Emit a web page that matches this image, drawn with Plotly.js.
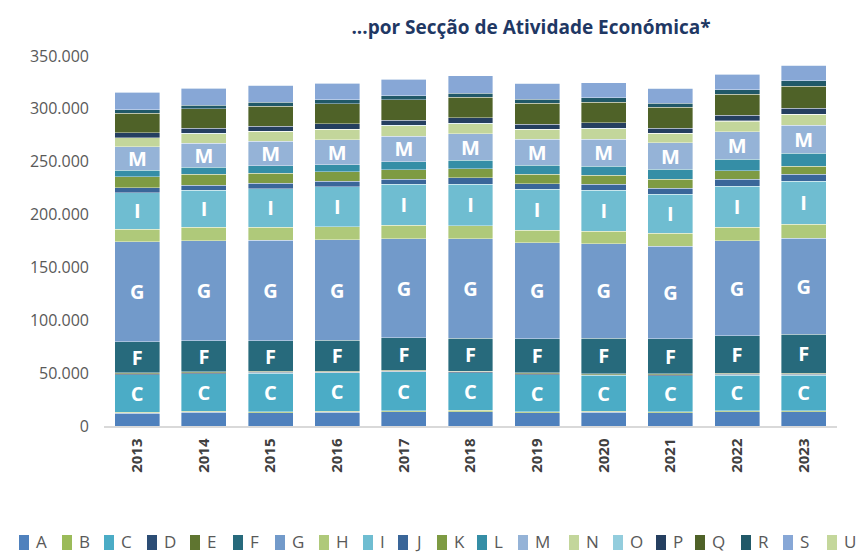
<!DOCTYPE html>
<html>
<head>
<meta charset="utf-8">
<script src="https://cdn.plot.ly/plotly-3.0.1.min.js"></script>
<style>html,body{margin:0;padding:0;background:#fff;}#chart{width:859px;height:552px;}</style>
</head>
<body>
<div id="chart"></div>
<script>
// ---- Data ----
const years = ['2013','2014','2015','2016','2017','2018','2019','2020','2021','2022','2023'];
const seriesNames = ['A','B','C','D','E','F','G','H','I','J','K','L','M','N','O','P','Q','R','S','U'];
const A = [12000,13200,12600,13200,13600,13600,12600,13200,12600,13600,13600];
const B = [800,700,700,900,800,1200,800,900,800,900,900];
const C = [35900,35600,36800,36200,36800,35600,35300,33700,34300,33700,33700];
const D = [700,700,700,700,700,700,700,700,700,700,700];
const E = [900,900,900,900,900,900,900,900,900,900,900];
const F = [29300,29600,29000,29000,30600,31200,32200,33800,33100,35600,37200];
const G = [94600,94600,94900,95200,93700,93700,90800,89200,87700,89900,90500];
const Hs = [12000,12900,12600,12600,12900,12600,12000,12000,12000,12600,13200];
const I = [34400,34700,36300,37800,38500,39400,38500,38500,36900,39100,41000];
const J = [4700,5000,5000,5000,5000,5700,5400,5700,5700,6600,6600];
const K = [10400,10100,9800,8800,9100,8800,8800,8500,8500,7900,7600];
const L = [6300,6600,6900,6900,7600,7900,8500,8800,9500,11000,12000];
const M = [22100,23000,23000,23600,24000,25200,24600,25500,25200,25900,26800];
const N = [8500,8800,9500,9800,9800,9500,9500,9800,8800,10100,10100];
const O = [300,300,300,300,300,300,300,300,300,300,300];
const P = [4700,5000,4700,5000,5000,5400,4700,5400,4700,5000,5700];
const Q = [18300,18600,18900,18900,19200,19200,19600,19200,19600,20200,20500];
const R = [3200,3200,3800,3800,3800,4100,4100,4400,4100,4100,5400];
const S = [16700,16100,15800,15800,15800,16100,14800,14200,13900,14800,14500];
const U = [200,200,200,200,200,200,200,200,200,200,200];
const seriesValues = [A,B,C,D,E,F,G,Hs,I,J,K,L,M,N,O,P,Q,R,S,U];
const labelledSeries = ['C','F','G','I','M'];

// ---- Styles ----
const colors = ['#4F81BD','#9BBB59','#4BACC6','#2C4D75','#5F7530','#276A7C','#729ACA','#AFC97A','#6FBDD1','#3A6699',
                '#7E9B43','#358EA6','#95B3D7','#C3D69B','#93CDDD','#253F60','#4F6228','#215968','#87A7D6','#C4D79B'];
const FONT = 'Open Sans, sans-serif';
const W = 859, H = 552;
const mg = {l:104, r:22, t:56, b:126};
const pw = W - mg.l - mg.r, ph = H - mg.t - mg.b;
const legendLeft = [19,62,104,147,190,233,275,319,363,398,437,477,518,569,613,656,695,741,783,827];

const traces = seriesNames.map((name, i) => {
  const lab = labelledSeries.includes(name);
  return {
    type: 'bar',
    name: name,
    x: years,
    y: seriesValues[i],
    marker: {color: colors[i], line: {color: 'rgba(255,255,255,0.55)', width: 0.7}},
    text: lab ? years.map(() => name) : undefined,
    textposition: lab ? 'inside' : 'none',
    insidetextanchor: 'middle',
    textangle: 0,
    textfont: {family: FONT, size: 20, color: '#FFFFFF', weight: 'bold'},
    hoverinfo: 'x+y+name',
    showlegend: false
  };
});

const shapes = [], annotations = [];
const px2x = px => (px - mg.l) / pw;
const py2y = py => (H - mg.b - py) / ph;
seriesNames.forEach((name, i) => {
  const x0 = legendLeft[i];
  shapes.push({type: 'rect', xref: 'paper', yref: 'paper',
    x0: px2x(x0), x1: px2x(x0 + 10), y0: py2y(550), y1: py2y(535),
    fillcolor: colors[i], line: {width: 0}});
  annotations.push({xref: 'paper', yref: 'paper', x: px2x(x0 + 15), y: py2y(541),
    xanchor: 'left', yanchor: 'middle', showarrow: false, text: name,
    font: {family: FONT, size: 17, color: '#595959'}});
});

const layout = {
  width: W, height: H,
  margin: mg,
  paper_bgcolor: '#FFFFFF', plot_bgcolor: '#FFFFFF',
  barmode: 'stack',
  bargap: 0.325,
  separators: ',.',
  uniformtext: {mode: 'show', minsize: 20},
  title: {text: '...por Secção de Atividade Económica*', x: 531 / W, xref: 'container', xanchor: 'center',
          y: 1 - 27 / H, yref: 'container', yanchor: 'middle',
          font: {family: FONT, size: 19, color: '#1F3864', weight: 'bold'}},
  xaxis: {type: 'category', tickangle: -90, showline: true, linecolor: '#D9D9D9', linewidth: 1.5,
          ticks: '', showgrid: false, zeroline: false, ticklabelstandoff: 5,
          tickfont: {family: FONT, size: 15, color: '#404040', weight: 'bold'}},
  yaxis: {range: [0, 350000], dtick: 50000, tickformat: ',d', showgrid: false, zeroline: false,
          showline: false, ticks: '', ticklabelstandoff: 14,
          tickfont: {family: FONT, size: 16, color: '#595959'}},
  shapes: shapes,
  annotations: annotations,
  showlegend: false
};

Plotly.newPlot('chart', traces, layout, {displayModeBar: false, staticPlot: true});
</script>
</body>
</html>
